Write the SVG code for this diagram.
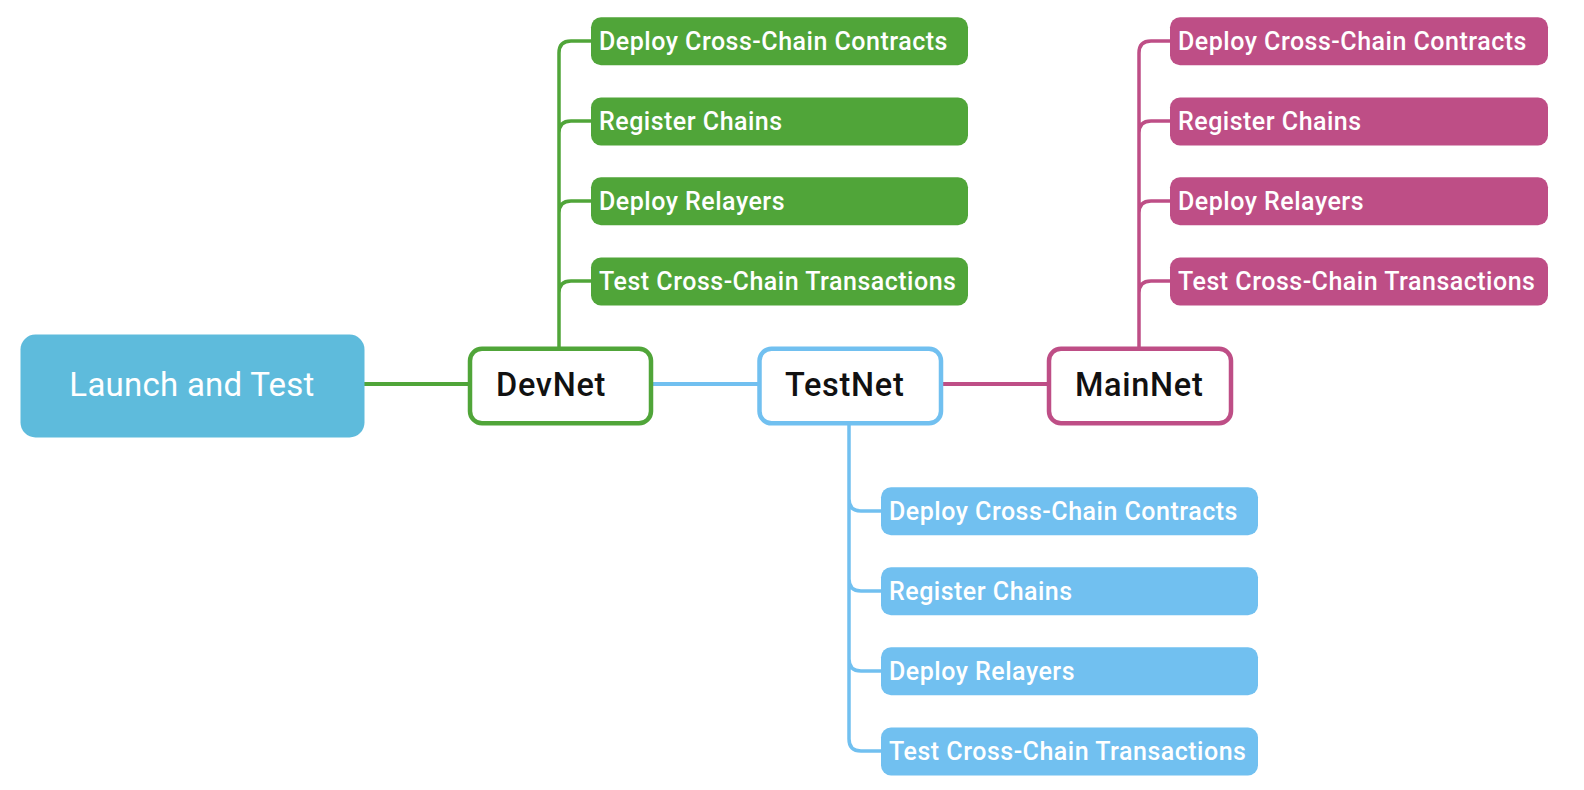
<svg xmlns="http://www.w3.org/2000/svg" width="1584" height="790" viewBox="0 0 1584 790">
<style>
.main{fill:#fff;stroke-width:4.5}
.mt{font-family:Roboto,"Liberation Sans",sans-serif;font-size:32.5px;font-weight:500;fill:#111;letter-spacing:0.7px}
.ct{font-family:Roboto,"Liberation Sans",sans-serif;font-size:25px;font-weight:500;fill:#fff;letter-spacing:0.5px}
.g{fill:#50A539}.gs{stroke:#50A539}
.b{fill:#71C0F0}.bs{stroke:#71C0F0}
.m{fill:#BE4E86}.ms{stroke:#BE4E86}
.link{fill:none;stroke-width:4}
.br{fill:none;stroke-width:3.5}
</style>
<rect width="1584" height="790" fill="#fff"/>
<g id="connectors">
<path class="link gs" d="M364,384 H470"/>
<path class="link bs" d="M651,384 H760"/>
<path class="link ms" d="M941,384 H1049"/>
<path class="br gs" d="M559,347 V53 Q559,41 571,41 H592 M559,133 Q559,121 571,121 H592 M559,213 Q559,201 571,201 H592 M559,293 Q559,281 571,281 H592"/>
<path class="br ms" d="M1139,347 V53 Q1139,41 1151,41 H1171 M1139,133 Q1139,121 1151,121 H1171 M1139,213 Q1139,201 1151,201 H1171 M1139,293 Q1139,281 1151,281 H1171"/>
<path class="br bs" d="M849,425 V739 Q849,751 861,751 H882 M849,499 Q849,511 861,511 H882 M849,579 Q849,591 861,591 H882 M849,659 Q849,671 861,671 H882"/>
</g>
<g id="launch">
<rect x="20.5" y="334.5" width="344" height="103" rx="15" fill="#5EBBDC"/>
<text x="192" y="396" text-anchor="middle" font-family="Roboto,'Liberation Sans',sans-serif" font-size="33" letter-spacing="0.25" fill="#fff">Launch and Test</text>
</g>
<g id="devnet">
<rect class="main gs" x="470" y="348.75" width="181" height="74.5" rx="12"/>
<text class="mt" x="496" y="396">DevNet</text>
</g>
<g id="testnet">
<rect class="main bs" x="759.5" y="348.75" width="181.5" height="74.5" rx="12"/>
<text class="mt" x="785" y="396">TestNet</text>
</g>
<g id="mainnet">
<rect class="main ms" x="1049" y="348.75" width="182" height="74.5" rx="12"/>
<text class="mt" x="1075" y="396">MainNet</text>
</g>
<g id="dev-1"><rect class="g" x="591" y="17.3" width="377" height="48" rx="10"/><text class="ct" x="599" y="50">Deploy Cross-Chain Contracts</text></g>
<g id="dev-2"><rect class="g" x="591" y="97.5" width="377" height="48" rx="10"/><text class="ct" x="599" y="130">Register Chains</text></g>
<g id="dev-3"><rect class="g" x="591" y="177.3" width="377" height="48" rx="10"/><text class="ct" x="599" y="210">Deploy Relayers</text></g>
<g id="dev-4"><rect class="g" x="591" y="257.5" width="377" height="48" rx="10"/><text class="ct" x="599" y="290">Test Cross-Chain Transactions</text></g>
<g id="main-1"><rect class="m" x="1170" y="17.3" width="378" height="48" rx="10"/><text class="ct" x="1178" y="50">Deploy Cross-Chain Contracts</text></g>
<g id="main-2"><rect class="m" x="1170" y="97.5" width="378" height="48" rx="10"/><text class="ct" x="1178" y="130">Register Chains</text></g>
<g id="main-3"><rect class="m" x="1170" y="177.3" width="378" height="48" rx="10"/><text class="ct" x="1178" y="210">Deploy Relayers</text></g>
<g id="main-4"><rect class="m" x="1170" y="257.5" width="378" height="48" rx="10"/><text class="ct" x="1178" y="290">Test Cross-Chain Transactions</text></g>
<g id="test-1"><rect class="b" x="881" y="487.3" width="377" height="48" rx="10"/><text class="ct" x="889" y="520">Deploy Cross-Chain Contracts</text></g>
<g id="test-2"><rect class="b" x="881" y="567.3" width="377" height="48" rx="10"/><text class="ct" x="889" y="600">Register Chains</text></g>
<g id="test-3"><rect class="b" x="881" y="647.3" width="377" height="48" rx="10"/><text class="ct" x="889" y="680">Deploy Relayers</text></g>
<g id="test-4"><rect class="b" x="881" y="727.5" width="377" height="48" rx="10"/><text class="ct" x="889" y="760">Test Cross-Chain Transactions</text></g>
</svg>
